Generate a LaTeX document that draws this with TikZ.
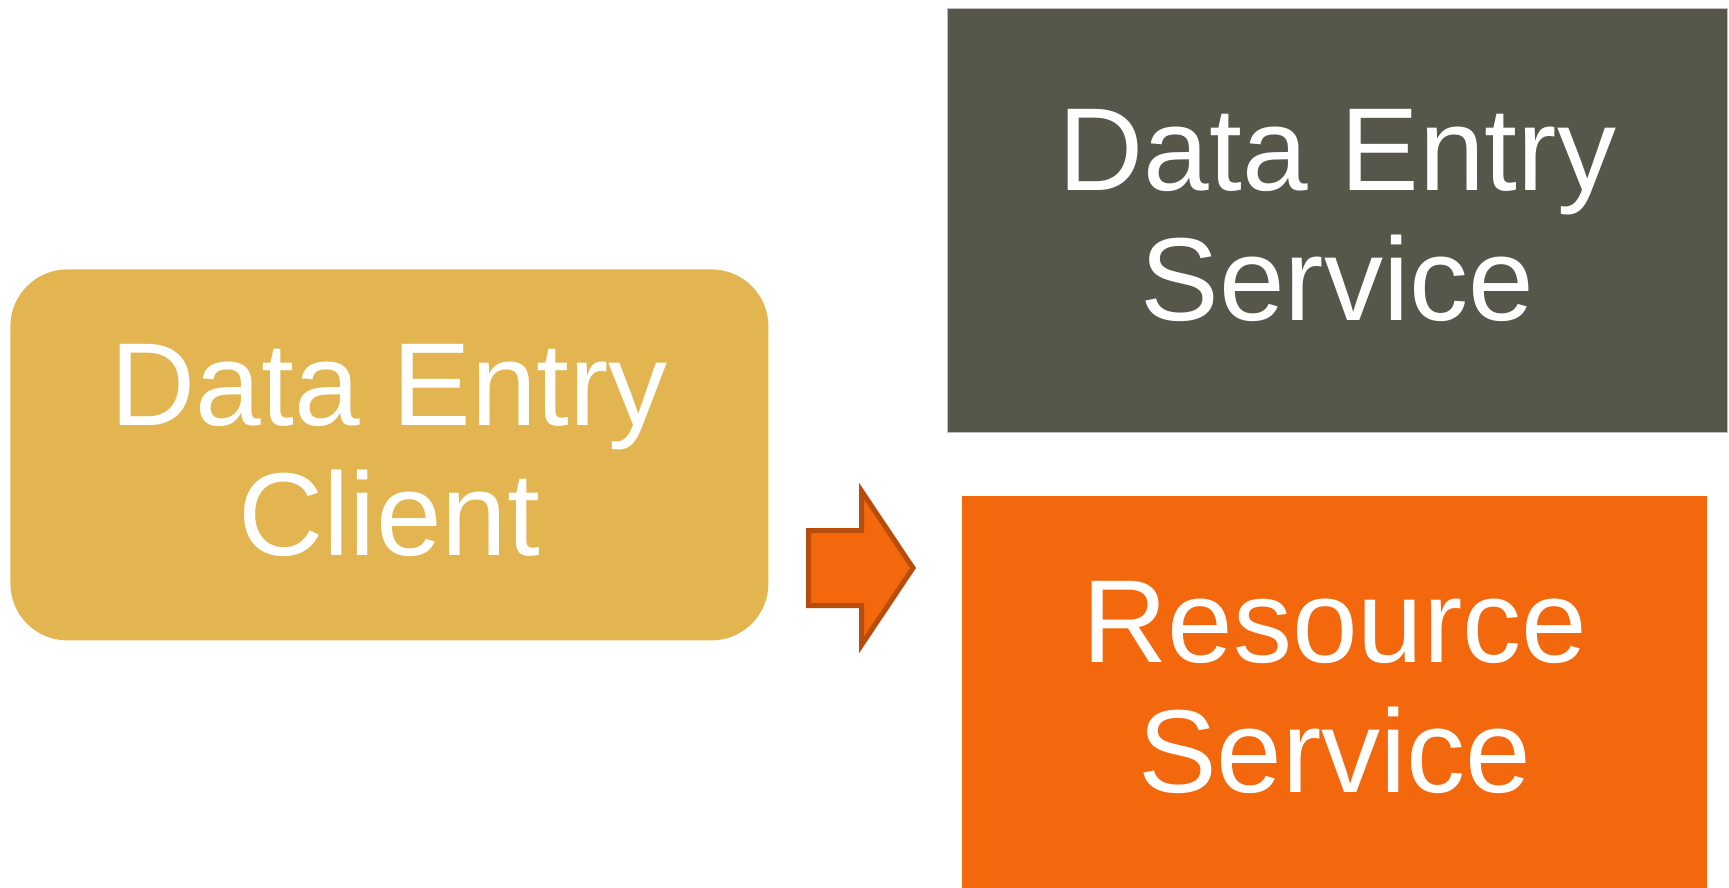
\documentclass[tikz,border=0pt]{standalone}
\usepackage{fontspec}
\setmainfont{Liberation Sans}
\definecolor{clientyellow}{HTML}{E3B550}
\definecolor{darkbox}{HTML}{56574A}
\definecolor{orangebox}{HTML}{F3680D}
\definecolor{arrowedge}{HTML}{B84C0A}
\begin{document}
\begin{tikzpicture}[x=0.5pt,y=-0.5pt,
  boxtext/.style={text=white,align=center,font=\fontsize{59}{65}\selectfont,inner sep=0pt,text depth=5pt,anchor=north west},
]
\useasboundingbox (0,0) rectangle (1729,888);
\node[boxtext,fill=clientyellow,rounded corners=28.5pt,minimum width=379pt,minimum height=185.5pt] (client) at (10,269) {Data Entry\\Client};
\node[boxtext,fill=darkbox,draw=gray!50,line width=0.4pt,minimum width=390pt,minimum height=212pt] (des) at (947,8) {Data Entry\\Service};
\node[boxtext,fill=orangebox,minimum width=372.5pt,minimum height=196pt] (res) at (962,496) {Resource\\Service};
\draw[fill=orangebox,draw=arrowedge,line width=2.5pt,line join=miter]
  (808.5,530.5) -- (861.5,530.5) -- (861.5,491) -- (913,568) -- (861.5,645) -- (861.5,605.5) -- (808.5,605.5) -- cycle;
\end{tikzpicture}
\end{document}
